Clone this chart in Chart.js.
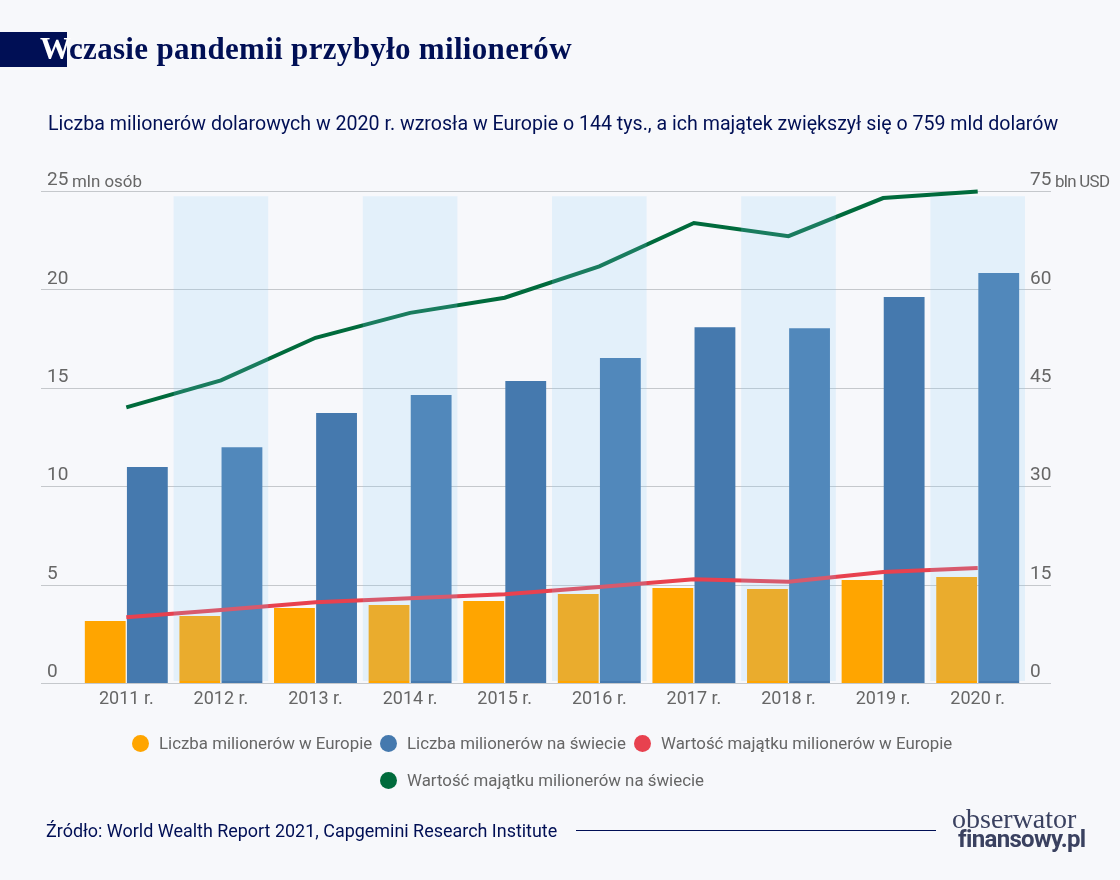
<!DOCTYPE html>
<html lang="pl">
<head>
<meta charset="utf-8">
<title>W czasie pandemii przybyło milionerów</title>
<script src="https://cdn.jsdelivr.net/npm/chart.js@4/dist/chart.umd.min.js"></script>
<style>
html,body{margin:0;padding:0;background:#F7F8FB;}
#wrap{position:relative;width:1120px;height:880px;overflow:hidden;background:#F7F8FB;font-family:Roboto,sans-serif;}
#wrap canvas{position:absolute;left:0;top:0;}
.t{position:absolute;white-space:nowrap;}
#bar{position:absolute;left:0;top:32px;width:67px;height:35px;background:#000F55;}
#w{left:40px;top:31px;font:bold 31px/36px "Liberation Serif",serif;color:#fff;}
#title{left:69px;top:31px;font:bold 31px/36px "Liberation Serif",serif;color:#000F55;letter-spacing:.32px;}
#sub{left:48px;top:112px;font:19.6px/24px Roboto,sans-serif;color:#000F55;}
.unit{font:16.9px/20px Roboto,sans-serif;color:#666;}
#legend{position:absolute;left:0;top:0;width:100%;}
.li{position:absolute;font:16.85px/22px Roboto,sans-serif;color:#666;white-space:nowrap;padding-left:27px;}
.li i{position:absolute;left:0;top:3px;width:17px;height:17px;border-radius:50%;}
#src{left:46px;top:820px;font:17.95px/22px Roboto,sans-serif;color:#000F55;}
#rule{position:absolute;left:576px;top:830px;width:360px;height:1px;background:#000F55;}
#logo1{left:952px;top:806px;font:28px/26px "Liberation Serif",serif;color:#3a4160;}
#logo2{left:958px;top:826px;font:bold 24px/26px Roboto,sans-serif;color:#3a4160;letter-spacing:-.65px;}
</style>
</head>
<body>
<div id="wrap">
  <canvas id="c" width="1120" height="880"></canvas>
  <div id="bar"></div>
  <div class="t" id="w">W</div>
  <div class="t" id="title">czasie pandemii przybyło milionerów</div>
  <div class="t" id="sub">Liczba milionerów dolarowych w 2020 r. wzrosła w Europie o 144 tys., a ich majątek zwiększył się o 759 mld dolarów</div>
  <div class="t unit" style="left:72px;top:171px">mln osób</div>
  <div class="t unit" style="left:1055px;top:171px;letter-spacing:-.7px">bln USD</div>
  <div id="legend"></div>
  <div class="t" id="src">Źródło: World Wealth Report 2021, Capgemini Research Institute</div>
  <div id="rule"></div>
  <div class="t" id="logo1">obserwator</div>
  <div class="t" id="logo2">finansowy.pl</div>
</div>
<script>
const years = ["2011 r.","2012 r.","2013 r.","2014 r.","2015 r.","2016 r.","2017 r.","2018 r.","2019 r.","2020 r."];
const europeCount = [3.18,3.43,3.84,3.99,4.19,4.55,4.85,4.80,5.26,5.41];
const worldCount = [11.0,12.0,13.75,14.66,15.37,16.54,18.1,18.05,19.64,20.86];
const europeWealth = [10.1,11.2,12.4,13.0,13.6,14.7,15.9,15.5,17.0,17.6];
const worldWealth = [42.1,46.2,52.7,56.5,58.8,63.6,70.2,68.2,74.0,75.0];
const bandYears = ["2012 r.","2014 r.","2016 r.","2018 r.","2020 r."];
const legendLabels = ["Liczba milionerów w Europie","Liczba milionerów na świecie","Wartość majątku milionerów w Europie","Wartość majątku milionerów na świecie"];
const legendSpots = [[132,732],[380,732],[634,732],[380,769]];

const tickColor = "#666666";
const gridColor = "#C5C8CC";
const tickFont = {family:"Roboto", size:19, lineHeight:22/19};

const bandPlugin = {
  id:"bands",
  afterDraw(chart){
    const {ctx, scales:{x,y}} = chart;
    const top = y.getPixelForValue(24.76), bottom = y.getPixelForValue(0.13);
    const step = x.getPixelForValue(1) - x.getPixelForValue(0);
    ctx.save();
    ctx.fillStyle = "rgba(140,205,250,0.18)";
    bandYears.forEach(name => {
      const cx = x.getPixelForValue(years.indexOf(name));
      ctx.fillRect(cx - step/2, top, step, bottom - top);
    });
    ctx.restore();
  }
};

const chart = new Chart(document.getElementById("c"), {
  data:{
    labels:years,
    datasets:[
      {type:"line",label:legendLabels[3],data:worldWealth,yAxisID:"y1",borderColor:"#006B3C",backgroundColor:"#006B3C",borderWidth:4,pointRadius:0,tension:0,clip:false,order:1},
      {type:"line",label:legendLabels[2],data:europeWealth,yAxisID:"y1",borderColor:"#E8414F",backgroundColor:"#E8414F",borderWidth:4,pointRadius:0,tension:0,clip:false,order:2},
      {type:"bar",label:legendLabels[0],data:europeCount,yAxisID:"y",backgroundColor:"#FFA500",categoryPercentage:0.89,barPercentage:0.97,order:3},
      {type:"bar",label:legendLabels[1],data:worldCount,yAxisID:"y",backgroundColor:"#4579AE",categoryPercentage:0.89,barPercentage:0.97,order:4}
    ]
  },
  options:{
    responsive:false,
    animation:false,
    layout:{padding:{left:47,right:0,top:191.5,bottom:146.5}},
    plugins:{legend:{display:false},tooltip:{enabled:false},title:{display:false}},
    scales:{
      x:{
        grid:{display:false},
        border:{display:false},
        ticks:{color:tickColor,font:{family:"Roboto",size:18},padding:-3,autoSkip:false,maxRotation:0},
        afterFit(s){s.height=50;}
      },
      y:{
        position:"left",min:0,max:25,
        grid:{color:gridColor,lineWidth:1,tickLength:38,tickColor:gridColor},
        border:{display:false},
        ticks:{stepSize:5,color:tickColor,font:tickFont,crossAlign:"far",padding:0,callback:v=>[String(v),""]},
        afterFit(s){s.width=32;}
      },
      y1:{
        position:"right",min:0,max:75,
        grid:{drawOnChartArea:false,color:gridColor,lineWidth:1,tickLength:26,tickColor:gridColor},
        border:{display:false},
        ticks:{stepSize:15,color:tickColor,font:tickFont,padding:-21,callback:v=>[String(v),""]},
        afterFit(s){s.width=95;}
      }
    }
  },
  plugins:[bandPlugin]
});

const legendEl = document.getElementById("legend");
legendLabels.forEach((txt,i)=>{
  const ds = chart.data.datasets.find(d=>d.label===txt);
  const el = document.createElement("div");
  el.className = "li";
  el.style.left = legendSpots[i][0]+"px";
  el.style.top = legendSpots[i][1]+"px";
  const dot = document.createElement("i");
  dot.style.background = ds.backgroundColor;
  el.appendChild(dot);
  el.appendChild(document.createTextNode(txt));
  legendEl.appendChild(el);
});
</script>
</body>
</html>
